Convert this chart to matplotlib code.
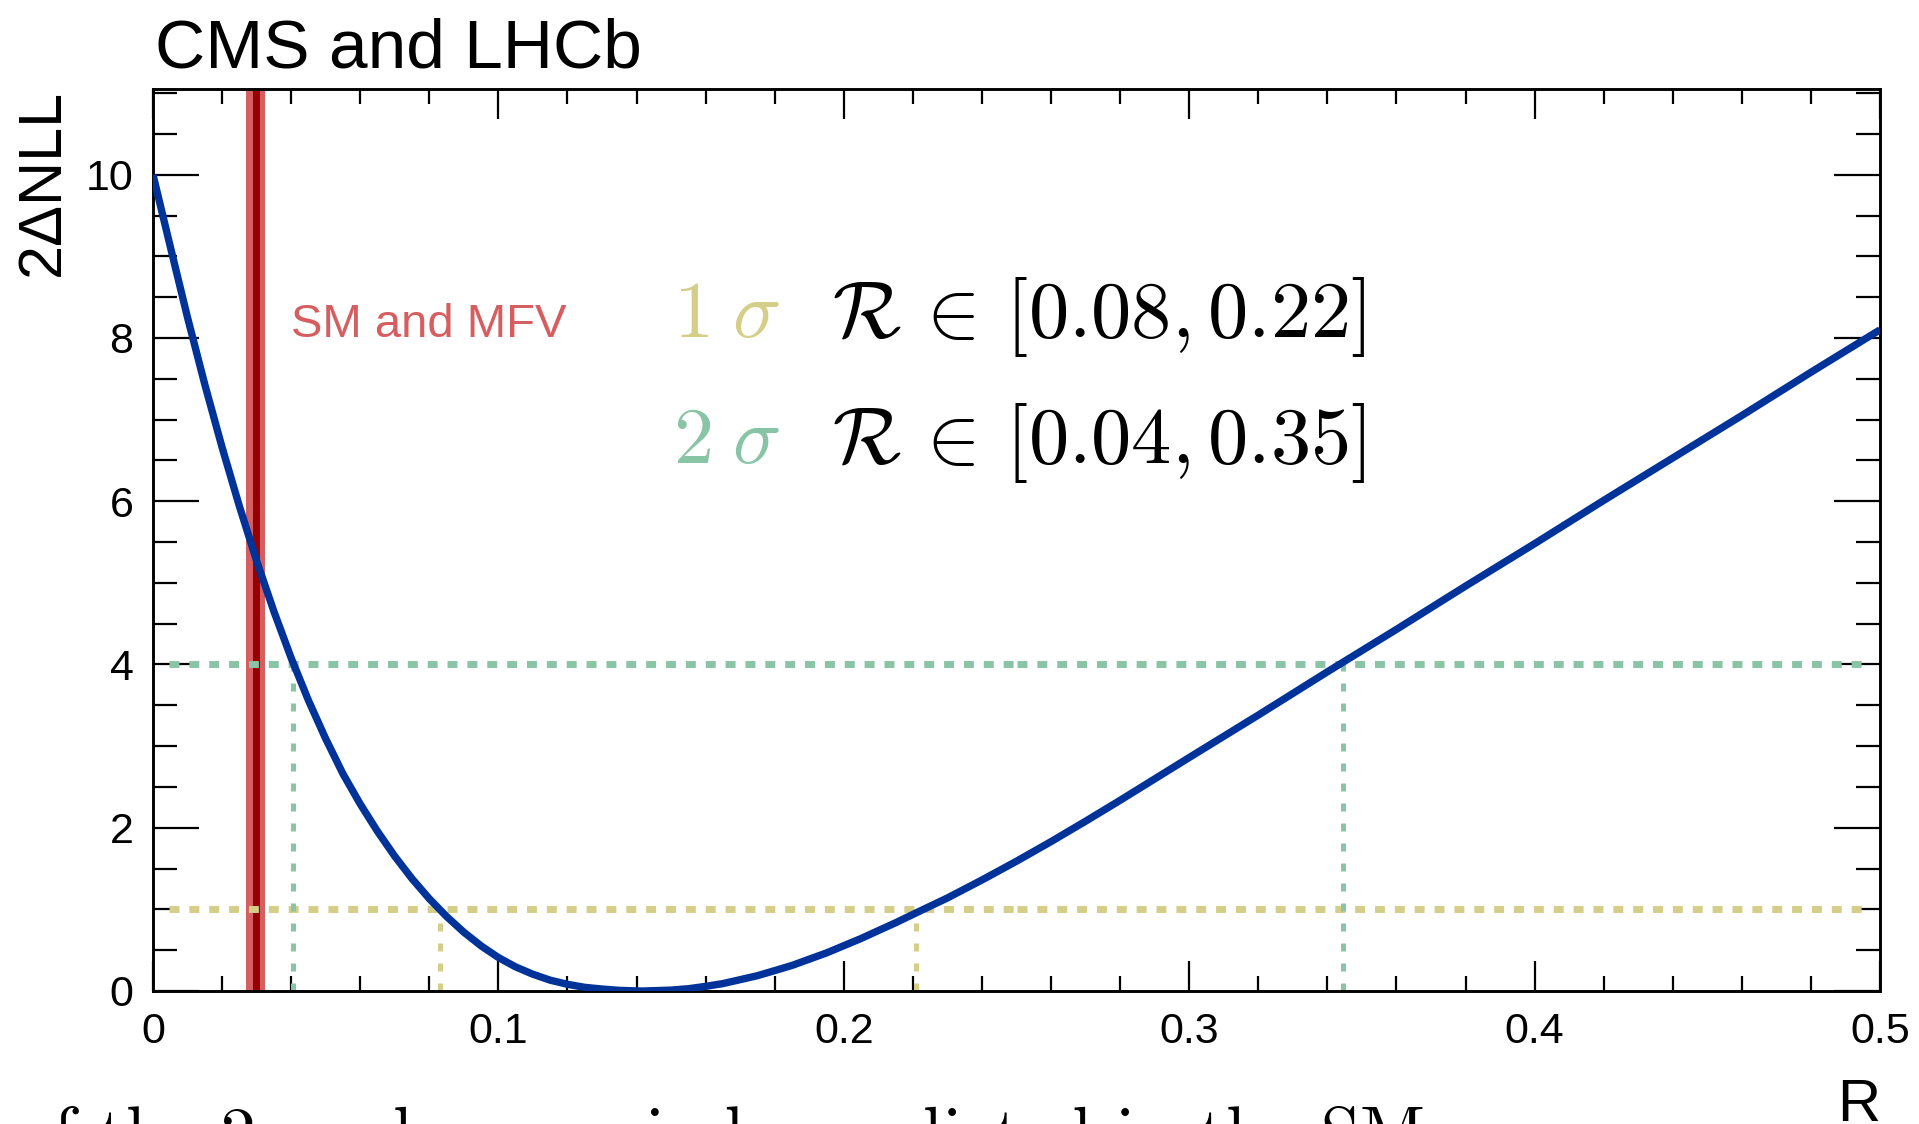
import matplotlib
matplotlib.use('Agg')
import matplotlib.pyplot as plt
from matplotlib.ticker import MultipleLocator, FixedLocator, FixedFormatter

plt.rcParams['font.family'] = ['Liberation Sans', 'DejaVu Sans']
plt.rcParams['mathtext.fontset'] = 'cm'

# likelihood scan
ratio = [0.0, 0.005, 0.01, 0.015, 0.02, 0.025, 0.03, 0.035, 0.04, 0.045,
         0.05, 0.055, 0.06, 0.065, 0.07, 0.075, 0.08, 0.085, 0.09, 0.095,
         0.10, 0.105, 0.11, 0.115, 0.12, 0.125, 0.13, 0.135, 0.14, 0.142,
         0.15, 0.155, 0.16, 0.165, 0.17, 0.175, 0.18, 0.185, 0.19, 0.195,
         0.20, 0.205, 0.21, 0.215, 0.22, 0.23, 0.24, 0.25, 0.26, 0.27,
         0.28, 0.30, 0.32, 0.34, 0.36, 0.38, 0.40, 0.42, 0.44, 0.46,
         0.48, 0.50]
nll2 = [10.0, 9.12, 8.25, 7.43, 6.66, 5.94, 5.27, 4.65, 4.08, 3.56,
        3.09, 2.66, 2.29, 1.955, 1.65, 1.375, 1.13, 0.9125, 0.72, 0.5525,
        0.41, 0.295, 0.205, 0.1325, 0.082, 0.045, 0.024, 0.008, 0.001, 0.0,
        0.011, 0.028, 0.057, 0.091, 0.139, 0.1875, 0.25, 0.313, 0.39, 0.4665,
        0.555, 0.643, 0.74, 0.836, 0.938, 1.14, 1.36, 1.59, 1.83, 2.08,
        2.336, 2.86, 3.38, 3.91, 4.43, 4.96, 5.48, 6.01, 6.53, 7.05,
        7.58, 8.10]

# SM prediction
sm_ratio = 0.0297
sm_err = 0.0027

# intervals
one_sigma = [0.083, 0.221]
two_sigma = [0.0406, 0.3446]
one_sigma_text = r'$\mathcal{R}\,\in\,[0.08, 0.22]$'
two_sigma_text = r'$\mathcal{R}\,\in\,[0.04, 0.35]$'

# horizontal reference lines are drawn in two pieces
hline_x = [0.0047, 0.25, 0.4957]

x_ticks = [0, 0.1, 0.2, 0.3, 0.4, 0.5]
x_labels = ['0', '0.1', '0.2', '0.3', '0.4', '0.5']
y_ticks = [0, 2, 4, 6, 8, 10]
y_labels = ['0', '2', '4', '6', '8', '10']

blue = '#003399'
green = '#8AC4A6'
yellow = '#D4CE88'
red_light = '#D45E60'
red_dark = '#960000'

W, H = 1919, 1124
fig = plt.figure(figsize=(W / 100, H / 100), dpi=100)
ax = fig.add_axes([153 / W, 1 - 991 / H, (1880 - 153) / W, (991 - 89) / H])

# SM band
ax.axvspan(sm_ratio - sm_err, sm_ratio + sm_err, color=red_light, lw=0, zorder=1)
ax.axvline(sm_ratio, color=red_dark, lw=5, zorder=1.5)

# 1 and 2 sigma lines
for lo, hi in [(hline_x[0], hline_x[1]), (hline_x[1], hline_x[2])]:
    ax.plot([lo, hi], [4, 4], color=green, lw=5, ls=(0, (1.43, 1.43)), zorder=2)
    ax.plot([lo, hi], [1, 1], color=yellow, lw=5, ls=(0, (1.43, 1.43)), zorder=2)
for r in two_sigma:
    ax.plot([r, r], [0, 4], color=green, lw=3.6, ls=(0, (1.6, 2.4)), zorder=2)
for r in one_sigma:
    ax.plot([r, r], [0, 1], color=yellow, lw=3.6, ls=(0, (1.6, 2.4)), zorder=2)

# scan
ax.plot(ratio, nll2, color=blue, lw=5.3, zorder=3, solid_capstyle='butt',
        solid_joinstyle='round')

ax.set_xlim(0, 0.5)
ax.set_ylim(0, 11.05)

ax.xaxis.set_major_locator(FixedLocator(x_ticks))
ax.xaxis.set_major_formatter(FixedFormatter(x_labels))
ax.yaxis.set_major_locator(FixedLocator(y_ticks))
ax.yaxis.set_major_formatter(FixedFormatter(y_labels))
ax.xaxis.set_minor_locator(MultipleLocator(0.02))
ax.yaxis.set_minor_locator(MultipleLocator(0.5))

ax.tick_params(axis='both', which='both', direction='in', top=True, right=True,
               width=1.6, labelsize=31)
ax.tick_params(axis='x', which='major', length=21.6, pad=15)
ax.tick_params(axis='x', which='minor', length=10.5)
ax.tick_params(axis='y', which='major', length=33, pad=14)
ax.tick_params(axis='y', which='minor', length=17)
for s in ax.spines.values():
    s.set_linewidth(2.1)

# texts
ax.text(0.040, 8.01, 'SM and MFV', color=red_light, fontsize=34, va='baseline')
ax.text(0.1505, 8.01, r'$1\;\sigma$', color=yellow, fontsize=58, va='baseline')
ax.text(0.1966, 8.01, one_sigma_text, color='black', fontsize=58, va='baseline')
ax.text(0.1505, 6.47, r'$2\;\sigma$', color=green, fontsize=58, va='baseline')
ax.text(0.1966, 6.47, two_sigma_text, color='black', fontsize=58, va='baseline')

fig.text(155 / W, 1 - 67 / H, 'CMS and LHCb', fontsize=50, va='baseline', ha='left')
fig.text(43 / W, 1 - 89 / H, '2\u0394NLL', fontsize=44, rotation=90,
         ha='center', va='top')
fig.text(1880 / W, 1 - 1121 / H, 'R', fontsize=43, ha='right', va='baseline')

# cut off line of the surrounding page text
fig.text(18 / W, 1 - 1156 / H, 'of the 2 modes, precisely predicted in the SM',
         family='cmr10', fontsize=51, ha='left', va='baseline')

fig.savefig('out.png', dpi=100)
